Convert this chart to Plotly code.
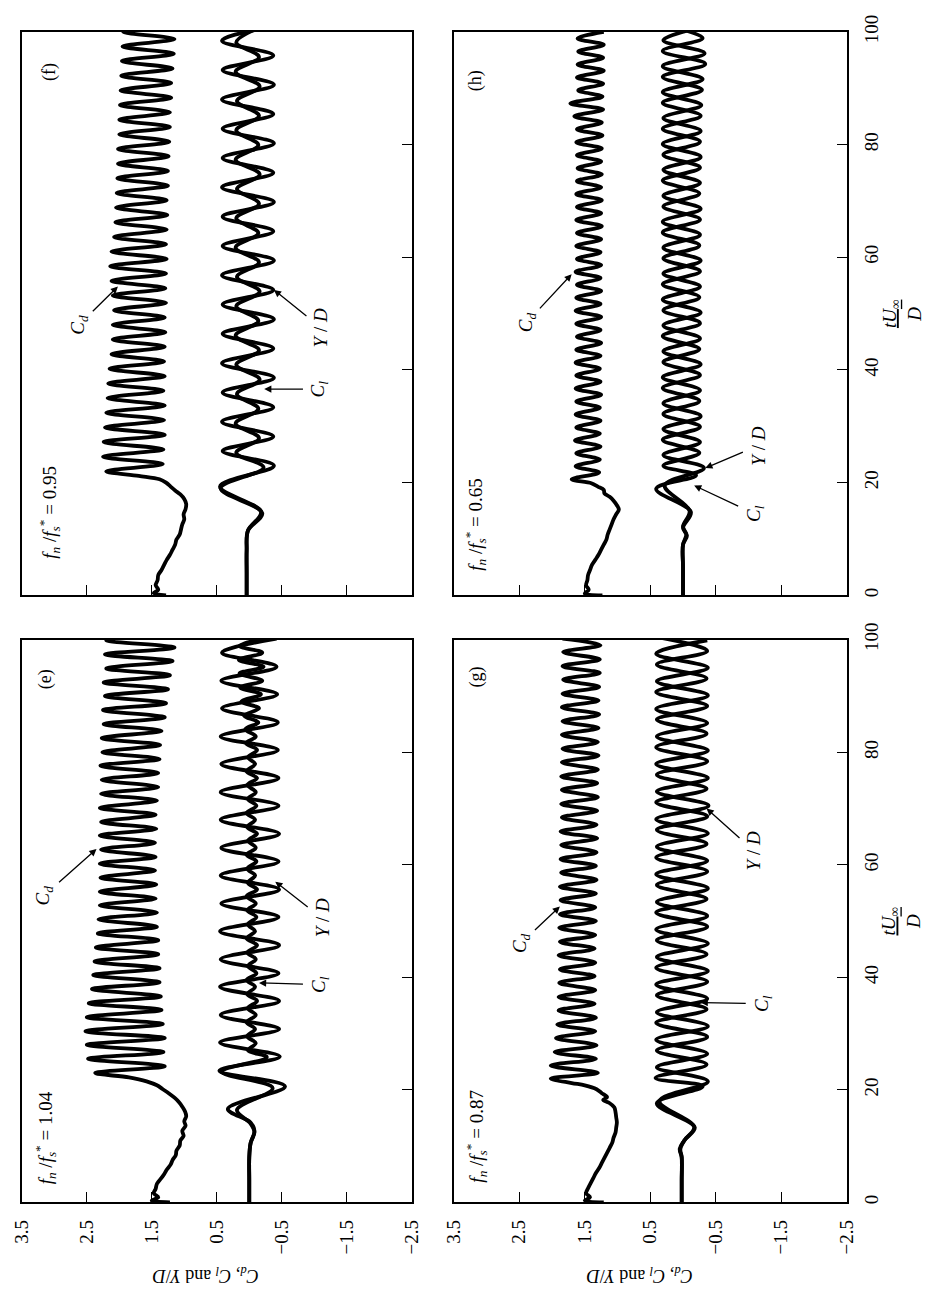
import plotly.graph_objects as go

FONT = "Liberation Serif"

VAL_TICKS = [3.5, 2.5, 1.5, 0.5, -0.5, -1.5, -2.5]
TIME_TICKS = [0, 20, 40, 60, 80, 100]

# ---------------- panel (e)  fn/fs* = 1.04 (turning points) ----------------
E_CD_T = [0.0, 0.3, 0.9, 1.6, 2.4, 3.3, 4.2, 5.0, 5.8, 6.7, 7.5, 8.4, 9.2, 10.1, 11.0, 11.8, 12.7, 13.6,
          14.4, 15.3, 16.2, 17.0, 17.8, 18.6, 19.4, 20.1, 20.8, 21.5, 22.2,
          23.0, 24.2, 25.5, 26.7, 28.0, 29.2, 30.4, 31.7, 32.9, 34.2, 35.4, 36.6, 37.9, 39.1, 40.4, 41.6,
          42.8, 44.1, 45.3, 46.6, 47.8, 49.0, 50.3, 51.5, 52.8, 54.0, 55.2, 56.5, 57.7, 59.0, 60.2, 61.4,
          62.7, 63.9, 65.2, 66.4, 67.6, 68.9, 70.1, 71.4, 72.6, 73.8, 75.1, 76.3, 77.6, 78.8, 80.0, 81.3,
          82.5, 83.8, 85.0, 86.2, 87.5, 88.7, 90.0, 91.2, 92.4, 93.7, 94.9, 96.2, 97.4, 98.6, 99.9, 101.1]
E_CD_V = [1.22, 1.50, 1.40, 1.47, 1.44, 1.42, 1.36, 1.31, 1.27, 1.21, 1.18, 1.13, 1.12, 1.07, 1.06, 1.01, 1.03, 0.98,
          1.00, 0.97, 0.99, 1.03, 1.08, 1.15, 1.24, 1.33, 1.42, 1.58, 1.85,
          2.37, 1.30, 2.48, 1.32, 2.50, 1.30, 2.52, 1.33, 2.50, 1.35, 2.47, 1.36, 2.42, 1.38, 2.40, 1.38,
          2.38, 1.40, 2.36, 1.40, 2.33, 1.42, 2.32, 1.42, 2.30, 1.44, 2.30, 1.43, 2.29, 1.45, 2.30, 1.44,
          2.28, 1.45, 2.30, 1.43, 2.28, 1.44, 2.30, 1.42, 2.28, 1.40, 2.27, 1.40, 2.29, 1.38, 2.26, 1.37,
          2.27, 1.35, 2.24, 1.30, 2.25, 1.28, 2.22, 1.25, 2.24, 1.22, 2.20, 1.18, 2.22, 1.15, 2.20, 1.15]
E_YD_T = [0.0, 4.0, 8.0, 10.5, 12.7, 14.2, 16.6, 20.6,
          23.4, 25.9, 28.4, 30.8, 33.3, 35.8, 38.3, 40.7, 43.2, 45.7, 48.2, 50.7, 53.1, 55.6, 58.1, 60.6,
          63.0, 65.5, 68.0, 70.5, 72.9, 75.4, 77.9, 80.4, 82.8, 85.3, 87.8, 90.3, 92.7, 95.2, 97.7, 100.2]
E_YD_V = [0.0, 0.0, 0.0, -0.02, -0.08, -0.02, 0.33, -0.55,
          0.46, -0.47, 0.45, -0.46, 0.44, -0.46, 0.45, -0.45, 0.44, -0.46, 0.45, -0.45, 0.43, -0.46, 0.44, -0.45,
          0.43, -0.46, 0.44, -0.45, 0.44, -0.45, 0.43, -0.44, 0.44, -0.44, 0.42, -0.43, 0.43, -0.42, 0.42, -0.42]
E_CL_T = [0.0, 4.0, 8.0, 10.5, 12.5, 14.0, 16.4, 20.3, 23.2, 25.8,
          27.0, 28.3, 29.5, 30.8, 32.0, 33.3, 34.5, 35.8, 37.0, 38.3, 39.5, 40.7,
          42.0, 43.2, 44.4, 45.7, 46.9, 48.2, 49.4, 50.7, 51.9, 53.1, 54.4, 55.6,
          56.8, 58.1, 59.3, 60.6, 61.8, 63.0, 64.3, 65.5, 66.7, 68.0, 69.2, 70.5,
          71.7, 72.9, 74.2, 75.4, 76.6, 77.9, 79.1, 80.4, 81.6, 82.8, 84.1, 85.3,
          86.5, 87.8, 89.0, 90.3, 91.5, 92.7, 94.0, 95.2, 96.4, 97.7, 98.9, 100.2]
E_CL_V = [0.0, 0.0, 0.0, -0.02, -0.08, -0.02, 0.19, -0.36, 0.42, -0.27,
          0.02, -0.10, 0.03, -0.09, 0.04, -0.10, 0.02, -0.12, 0.03, -0.09, 0.04, -0.11,
          0.02, -0.10, 0.03, -0.12, 0.04, -0.09, 0.02, -0.11, 0.03, -0.10, 0.04, -0.12,
          0.02, -0.09, 0.03, -0.11, 0.04, -0.10, 0.02, -0.12, 0.03, -0.09, 0.04, -0.11,
          0.02, -0.10, 0.03, -0.12, 0.04, -0.09, 0.02, -0.12, 0.05, -0.10, 0.06, -0.14,
          0.08, -0.15, 0.12, -0.18, 0.14, -0.20, 0.15, -0.22, 0.16, -0.20, 0.15, -0.22]

# ---------------- panel (f)  fn/fs* = 0.95 ----------------
F_CD_T = [0.0, 0.4, 1.0, 1.8, 2.7, 3.6, 4.5, 5.4, 6.3, 7.2, 8.1, 9.0, 9.9, 10.8, 11.7, 12.6, 13.5, 14.4,
          15.3, 16.2, 17.1, 17.9, 18.6, 19.3, 20.0, 20.6, 21.2,
          22.0, 23.3, 24.6, 25.9, 27.2, 28.5, 29.8, 31.1, 32.4, 33.7, 35.0, 36.3, 37.6, 38.9, 40.2, 41.5,
          42.8, 44.1, 45.4, 46.7, 48.0, 49.3, 50.6, 51.9, 53.2, 54.5, 55.8, 57.1, 58.4, 59.7, 61.0, 62.3,
          63.6, 64.9, 66.2, 67.5, 68.8, 70.1, 71.4, 72.7, 74.0, 75.3, 76.6, 77.9, 79.2, 80.5, 81.8, 83.1,
          84.4, 85.7, 87.0, 88.3, 89.6, 90.9, 92.2, 93.5, 94.8, 96.1, 97.4, 98.7, 100.0, 101.3]
F_CD_V = [1.28, 1.47, 1.40, 1.44, 1.41, 1.40, 1.35, 1.31, 1.27, 1.22, 1.18, 1.14, 1.12, 1.07, 1.05, 1.03, 1.00, 1.01,
          0.98, 0.97, 1.00, 1.06, 1.14, 1.21, 1.28, 1.38, 1.70,
          2.20, 1.33, 2.25, 1.32, 2.24, 1.30, 2.22, 1.31, 2.20, 1.30, 2.18, 1.32, 2.17, 1.30, 2.15, 1.31,
          2.12, 1.30, 2.10, 1.29, 2.10, 1.30, 2.08, 1.28, 2.10, 1.29, 2.12, 1.28, 2.14, 1.27, 2.12, 1.28,
          2.08, 1.27, 2.06, 1.26, 2.05, 1.27, 2.04, 1.25, 2.03, 1.25, 2.02, 1.24, 2.02, 1.23, 2.00, 1.22,
          2.00, 1.22, 1.99, 1.20, 1.98, 1.20, 1.97, 1.18, 1.96, 1.16, 1.95, 1.15, 1.94, 1.14]
F_YD_T = [0.0, 4.0, 8.0, 11.5, 14.8, 19.3,
          23.0, 25.6, 28.2, 30.8, 33.4, 36.0, 38.6, 41.2, 43.8, 46.4, 49.0, 51.6, 54.2, 56.8, 59.4, 62.0,
          64.6, 67.2, 69.8, 72.4, 75.0, 77.6, 80.2, 82.8, 85.4, 88.0, 90.6, 93.2, 95.8, 98.4, 101.0]
F_YD_V = [0.04, 0.04, 0.04, 0.02, -0.18, 0.45,
          -0.38, 0.41, -0.37, 0.42, -0.37, 0.41, -0.38, 0.42, -0.37, 0.41, -0.38, 0.41, -0.37, 0.42, -0.38, 0.41,
          -0.37, 0.41, -0.38, 0.42, -0.37, 0.41, -0.38, 0.41, -0.37, 0.42, -0.38, 0.41, -0.37, 0.42, -0.38]
F_CL_T = [0.0, 4.0, 8.0, 11.5, 14.6, 19.0,
          22.7, 25.3, 27.9, 30.5, 33.1, 35.7, 38.3, 40.9, 43.5, 46.1, 48.7, 51.3, 53.9, 56.5, 59.1, 61.7,
          64.3, 66.9, 69.5, 72.1, 74.7, 77.3, 79.9, 82.5, 85.1, 87.7, 90.3, 92.9, 95.5, 98.1, 100.7]
F_CL_V = [0.04, 0.04, 0.04, 0.02, -0.20, 0.44,
          -0.22, 0.20, -0.15, 0.21, -0.14, 0.19, -0.16, 0.20, -0.15, 0.21, -0.14, 0.20, -0.16, 0.19, -0.15, 0.21,
          -0.14, 0.20, -0.15, 0.19, -0.16, 0.21, -0.14, 0.20, -0.15, 0.19, -0.16, 0.21, -0.15, 0.20, -0.14]

# ---------------- panel (g)  fn/fs* = 0.87 ----------------
G_CD_T = [0.0, 0.3, 0.9, 1.6, 2.5, 3.4, 4.3, 5.2, 6.1, 7.0, 7.9, 8.8, 9.7, 10.6, 11.5, 12.4, 13.3, 14.2,
          15.1, 16.0, 16.9, 17.7, 18.2, 18.7, 19.4, 20.1, 20.8, 21.2,
          22.0, 23.0, 24.3, 25.5, 26.7, 27.9, 29.2, 30.4, 31.6, 32.8, 34.1, 35.3, 36.5, 37.7, 39.0, 40.2,
          41.4, 42.6, 43.9, 45.1, 46.3, 47.5, 48.8, 50.0, 51.2, 52.4, 53.7, 54.9, 56.1, 57.3, 58.6, 59.8,
          61.0, 62.2, 63.5, 64.7, 65.9, 67.1, 68.4, 69.6, 70.8, 72.0, 73.3, 74.5, 75.7, 76.9, 78.2, 79.4,
          80.6, 81.8, 83.1, 84.3, 85.5, 86.7, 88.0, 89.2, 90.4, 91.6, 92.9, 94.1, 95.3, 96.5, 97.8, 99.0, 100.2]
G_CD_V = [1.21, 1.50, 1.42, 1.48, 1.45, 1.41, 1.37, 1.33, 1.28, 1.24, 1.20, 1.16, 1.12, 1.08, 1.06, 1.03, 1.02, 1.01,
          1.02, 1.03, 1.05, 1.13, 1.22, 1.16, 1.24, 1.32, 1.50, 1.70,
          2.02, 1.30, 2.02, 1.33, 1.96, 1.32, 1.94, 1.34, 1.92, 1.33, 1.90, 1.35, 1.90, 1.34, 1.89, 1.35,
          1.88, 1.34, 1.90, 1.35, 1.88, 1.34, 1.89, 1.33, 1.88, 1.34, 1.87, 1.33, 1.88, 1.32, 1.86, 1.33,
          1.87, 1.32, 1.86, 1.31, 1.87, 1.32, 1.85, 1.31, 1.86, 1.30, 1.85, 1.31, 1.86, 1.30, 1.85, 1.29,
          1.84, 1.30, 1.85, 1.29, 1.84, 1.28, 1.85, 1.29, 1.84, 1.28, 1.83, 1.27, 1.84, 1.27, 1.83, 1.26, 1.84]
G_YD_T = [0.0, 4.0, 8.0, 9.5, 11.0, 13.4, 18.0, 21.5,
          24.0, 26.4, 28.9, 31.3, 33.8, 36.2, 38.7, 41.1, 43.6, 46.0, 48.5, 50.9, 53.4, 55.8, 58.3, 60.7,
          63.2, 65.6, 68.1, 70.5, 73.0, 75.4, 77.9, 80.3, 82.8, 85.2, 87.7, 90.1, 92.6, 95.0, 97.5, 99.9]
G_YD_V = [0.02, 0.02, 0.02, 0.05, -0.02, -0.17, 0.36, -0.38,
          0.40, -0.37, 0.41, -0.38, 0.40, -0.37, 0.41, -0.38, 0.40, -0.38, 0.41, -0.37, 0.40, -0.38, 0.41, -0.37,
          0.40, -0.38, 0.41, -0.39, 0.40, -0.38, 0.41, -0.38, 0.40, -0.37, 0.41, -0.38, 0.40, -0.38, 0.41, -0.37]
G_CL_T = [0.0, 4.0, 8.0, 9.5, 11.0, 13.3, 17.6, 20.6,
          22.1, 24.5, 27.0, 29.4, 31.9, 34.3, 36.8, 39.2, 41.7, 44.1, 46.6, 49.0, 51.5, 53.9, 56.4, 58.8,
          61.3, 63.7, 66.2, 68.6, 71.1, 73.5, 76.0, 78.4, 80.9, 83.3, 85.8, 88.2, 90.7, 93.1, 95.6, 98.0, 100.5]
G_CL_V = [0.02, 0.02, 0.02, 0.04, -0.02, -0.18, 0.40, -0.30,
          0.42, -0.36, 0.40, -0.37, 0.41, -0.36, 0.40, -0.37, 0.41, -0.36, 0.40, -0.37, 0.41, -0.36, 0.40, -0.37,
          0.41, -0.36, 0.40, -0.37, 0.41, -0.36, 0.40, -0.37, 0.41, -0.36, 0.40, -0.37, 0.41, -0.36, 0.40, -0.37, 0.41]

# ---------------- panel (h)  fn/fs* = 0.65 ----------------
H_CD_T = [0.0, 0.3, 1.0, 1.8, 2.7, 3.6, 4.5, 5.4, 6.3, 7.2, 8.1, 9.0, 9.9, 10.8, 11.7, 12.6, 13.5, 14.4,
          15.2, 16.0, 16.8, 17.5, 18.1, 18.7, 19.3, 19.9,
          20.6, 21.8, 22.9, 24.1, 25.2, 26.4, 27.5, 28.7, 29.8, 31.0, 32.1, 33.3, 34.4, 35.6, 36.7, 37.9,
          39.0, 40.2, 41.3, 42.5, 43.6, 44.8, 45.9, 47.1, 48.2, 49.4, 50.5, 51.7, 52.8, 54.0, 55.1, 56.3,
          57.4, 58.6, 59.7, 60.9, 62.0, 63.2, 64.3, 65.5, 66.6, 67.8, 68.9, 70.1, 71.2, 72.4, 73.5, 74.7,
          75.8, 77.0, 78.1, 79.3, 80.4, 81.6, 82.7, 83.9, 85.0, 86.2, 87.3, 88.5, 89.6, 90.8, 91.9, 93.1,
          94.2, 95.4, 96.5, 97.7, 98.8, 100.0]
H_CD_V = [1.23, 1.50, 1.44, 1.48, 1.46, 1.45, 1.42, 1.39, 1.34, 1.29, 1.25, 1.21, 1.17, 1.15, 1.12, 1.09, 1.06, 1.02,
          0.98, 1.01, 1.06, 1.12, 1.20, 1.21, 1.30, 1.40,
          1.70, 1.28, 1.64, 1.27, 1.63, 1.26, 1.65, 1.27, 1.63, 1.26, 1.64, 1.27, 1.63, 1.25, 1.64, 1.26,
          1.63, 1.27, 1.64, 1.26, 1.63, 1.25, 1.62, 1.26, 1.63, 1.25, 1.64, 1.26, 1.63, 1.25, 1.62, 1.26,
          1.64, 1.25, 1.62, 1.26, 1.63, 1.25, 1.62, 1.24, 1.63, 1.25, 1.62, 1.24, 1.63, 1.25, 1.62, 1.24,
          1.61, 1.25, 1.62, 1.24, 1.63, 1.23, 1.62, 1.24, 1.66, 1.22, 1.72, 1.23, 1.60, 1.22, 1.62, 1.21,
          1.61, 1.22, 1.60, 1.21, 1.61, 1.21]
H_YD_T = [0.0, 5.0, 9.0, 10.8, 12.2, 15.0, 19.5, 22.6,
          24.9, 27.2, 29.5, 31.8, 34.1, 36.4, 38.7, 41.0, 43.3, 45.6, 47.9, 50.2, 52.5, 54.8, 57.1, 59.4,
          61.7, 64.0, 66.3, 68.6, 70.9, 73.2, 75.5, 77.8, 80.1, 82.4, 84.7, 87.0, 89.3, 91.6, 93.9, 96.2,
          98.5, 100.8]
H_YD_V = [0.0, 0.0, 0.0, -0.05, 0.0, -0.10, 0.28, -0.32,
          0.30, -0.26, 0.30, -0.27, 0.30, -0.26, 0.31, -0.27, 0.30, -0.26, 0.30, -0.27, 0.31, -0.26, 0.30, -0.27,
          0.30, -0.26, 0.31, -0.27, 0.30, -0.26, 0.30, -0.27, 0.31, -0.27, 0.30, -0.28, 0.31, -0.30, 0.31, -0.33,
          0.30, -0.28]
H_CL_T = [0.0, 5.0, 9.0, 10.6, 12.0, 14.8, 18.9, 21.3,
          23.0, 25.3, 27.6, 29.9, 32.2, 34.5, 36.8, 39.1, 41.4, 43.7, 46.0, 48.3, 50.6, 52.9, 55.2, 57.5,
          59.8, 62.1, 64.4, 66.7, 69.0, 71.3, 73.6, 75.9, 78.2, 80.5, 82.8, 85.1, 87.4, 89.7, 92.0, 94.3,
          96.6, 98.9, 101.2]
H_CL_V = [0.0, 0.0, 0.0, -0.06, 0.0, -0.12, 0.41, -0.20,
          0.30, -0.25, 0.31, -0.26, 0.30, -0.25, 0.31, -0.26, 0.30, -0.25, 0.31, -0.26, 0.30, -0.25, 0.31, -0.26,
          0.30, -0.25, 0.31, -0.26, 0.30, -0.25, 0.31, -0.26, 0.30, -0.26, 0.31, -0.27, 0.31, -0.29, 0.31, -0.34,
          0.31, -0.30, 0.30]

RATIOS = {"e": "1.04", "f": "0.95", "g": "0.87", "h": "0.65"}

# ---------------- figure ----------------
W, H = 932, 1293
COL = {"left": [11 / W, 410 / W], "right": [453 / W, 855 / W]}
ROW = {"top": [1 - 587 / H, 1 - 15 / H], "bottom": [1 - 1203 / H, 1 - 632 / H]}

# panel -> (axis suffix, column, row)
PANELS = {"f": ("", "left", "top"), "h": ("2", "right", "top"),
          "e": ("3", "left", "bottom"), "g": ("4", "right", "bottom")}

SERIES = {
    "e": [(E_CD_T, E_CD_V), (E_YD_T, E_YD_V), (E_CL_T, E_CL_V)],
    "f": [(F_CD_T, F_CD_V), (F_YD_T, F_YD_V), (F_CL_T, F_CL_V)],
    "g": [(G_CD_T, G_CD_V), (G_YD_T, G_YD_V), (G_CL_T, G_CL_V)],
    "h": [(H_CD_T, H_CD_V), (H_YD_T, H_YD_V), (H_CL_T, H_CL_V)],
}

fig = go.Figure()
for key, (sfx, col, row) in PANELS.items():
    for t, v in SERIES[key]:
        fig.add_trace(go.Scatter(
            x=v, y=t, mode="lines", showlegend=False, hoverinfo="skip",
            line=dict(color="black", width=3.8, shape="spline", smoothing=1.0),
            xaxis="x" + sfx, yaxis="y" + sfx))

layout = dict(
    width=W, height=H, margin=dict(l=0, r=0, t=0, b=0),
    paper_bgcolor="white", plot_bgcolor="white",
    font=dict(family=FONT, color="black", size=17),
)
for key, (sfx, col, row) in PANELS.items():
    layout["xaxis" + sfx] = dict(
        domain=COL[col], range=[3.5, -2.5], anchor="y" + sfx,
        tickmode="array", tickvals=VAL_TICKS, ticks="inside", ticklen=10, tickwidth=1.4,
        tickcolor="black", showline=True, linecolor="black", linewidth=2, mirror=True,
        showgrid=False, zeroline=False, tickangle=-90, ticklabelstandoff=8,
        showticklabels=(row == "bottom"), tickfont=dict(family=FONT, size=19))
    layout["yaxis" + sfx] = dict(
        domain=ROW[row], range=[0, 100], anchor="x" + sfx, side="right",
        tickmode="array", tickvals=TIME_TICKS, ticks="inside", ticklen=10, tickwidth=1.4,
        tickcolor="black", showline=True, linecolor="black", linewidth=2, mirror=True,
        showgrid=False, zeroline=False, tickangle=-90, ticklabelstandoff=6,
        showticklabels=(col == "right"), tickfont=dict(family=FONT, size=19))
fig.update_layout(**layout)

CD = "<i>C</i><sub><i>d</i></sub>"
CL = "<i>C</i><sub><i>l</i></sub>"
YD = "<i>Y</i> / <i>D</i>"

# (text, text value, text time, arrow-tip value, arrow-tip time)
LABELS = {
    "e": [(CD, 3.16, 54.5, 2.35, 62.8), (CL, -1.08, 38.7, -0.15, 39.0), (YD, -1.12, 50.5, -0.40, 57.0)],
    "f": [(CD, 2.62, 48.0, 2.02, 54.8), (CL, -1.08, 36.6, -0.23, 36.6), (YD, -1.10, 47.5, -0.38, 54.2)],
    "g": [(CD, 2.48, 46.0, 1.88, 52.6), (CL, -1.21, 35.3, -0.27, 35.5), (YD, -1.08, 62.5, -0.36, 70.0)],
    "h": [(CD, 2.38, 48.5, 1.70, 57.0), (CL, -1.09, 14.5, -0.17, 19.5), (YD, -1.14, 26.5, -0.34, 22.6)],
}
RATIO_POS = {"e": (3.14, 11.4), "f": (3.07, 14.8), "g": (3.15, 11.8), "h": (3.17, 12.6)}
TAG_POS = {"e": (3.14, 93.0), "f": (3.07, 92.8), "g": (3.15, 93.4), "h": (3.17, 91.3)}

anns = []
for key, (sfx, col, row) in PANELS.items():
    xr, yr = "x" + sfx, "y" + sfx
    for text, tv, tt, hv, ht in LABELS[key]:
        anns.append(dict(xref=xr, yref=yr, axref=xr, ayref=yr, x=hv, y=ht, ax=tv, ay=tt,
                         text=text, textangle=-90, showarrow=True, arrowhead=2, arrowsize=1.1,
                         arrowwidth=1.3, arrowcolor="black", startstandoff=3,
                         font=dict(family=FONT, size=19)))
    rv, rt = RATIO_POS[key]
    anns.append(dict(xref=xr, yref=yr, x=rv, y=rt, showarrow=False, textangle=-90,
                     xanchor="center", yanchor="middle",
                     text="<i>f</i><sub><i>n</i></sub> /<i>f</i><sub><i>s</i></sub><sup>*</sup> = " + RATIOS[key],
                     font=dict(family=FONT, size=19)))
    pv, pt = TAG_POS[key]
    anns.append(dict(xref=xr, yref=yr, x=pv, y=pt, showarrow=False, textangle=-90,
                     xanchor="center", yanchor="middle",
                     text="(" + key + ")", font=dict(family=FONT, size=18)))

# axis titles
for col in ("left", "right"):
    xc = (COL[col][0] + COL[col][1]) / 2 - 0.012
    anns.append(dict(xref="paper", yref="paper", x=xc, y=1 - 1277 / H, showarrow=False, textangle=180,
                     xanchor="center", yanchor="middle",
                     text="<i>C</i><sub><i>d</i></sub>, <i>C</i><sub><i>l</i></sub> and <i>Y</i>/<i>D</i>",
                     font=dict(family=FONT, size=18)))
for row in ("top", "bottom"):
    yc = (ROW[row][0] + ROW[row][1]) / 2
    anns.append(dict(xref="paper", yref="paper", x=911 / W, y=yc, showarrow=False, textangle=-90,
                     xanchor="center", yanchor="middle",
                     text="<u><i>tU</i><sub>∞</sub></u><br><i>D</i>",
                     font=dict(family=FONT, size=19)))

fig.update_layout(annotations=anns)
fig.write_html("out.html")
